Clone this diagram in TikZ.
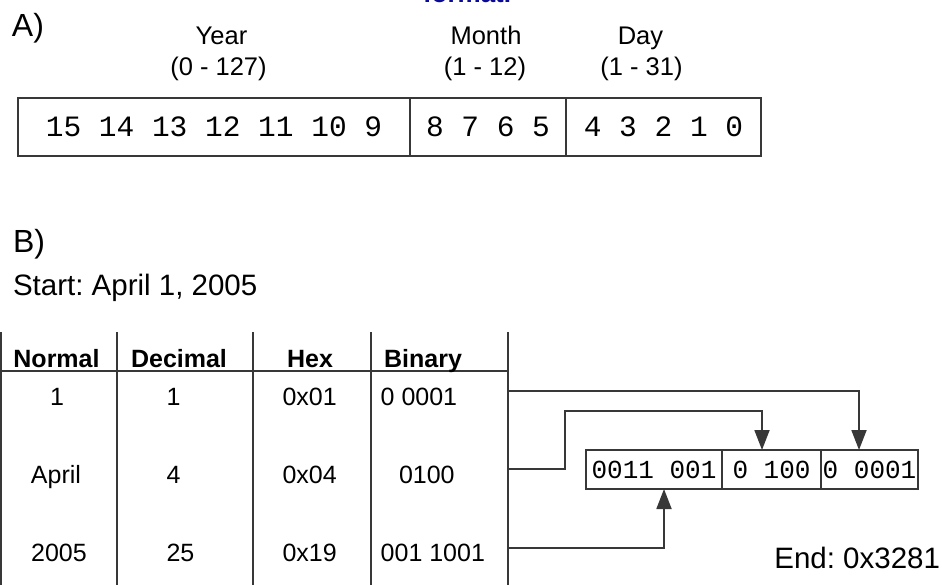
\documentclass[tikz,border=0pt]{standalone}
\usepackage{fontspec}
\setmainfont{Liberation Sans}
\setmonofont{Liberation Mono}
\usetikzlibrary{arrows.meta}
\definecolor{linegray}{gray}{0.22}
\definecolor{titleblue}{RGB}{10,10,150}
\frenchspacing
\begin{document}
\begin{tikzpicture}[x=1pt,y=-1pt,
  every node/.style={inner sep=0pt, outer sep=0pt},
  part/.style={font=\fontsize{32}{36}\selectfont, anchor=base west},
  lbl/.style={font=\fontsize{25.5}{30}\selectfont, anchor=base},
  note/.style={font=\fontsize{29.5}{34}\selectfont},
  head/.style={font=\bfseries\fontsize{25}{30}\selectfont, anchor=base},
  cellc/.style={font=\fontsize{25}{30}\selectfont, anchor=base},
  celll/.style={font=\fontsize{25}{30}\selectfont, anchor=base west},
  bitcell/.style={draw=linegray, line width=1.6pt, minimum height=58pt,
    font=\ttfamily\fontsize{29.5}{34}\selectfont},
  bincell/.style={draw=linegray, line width=1.6pt, minimum height=39pt,
    font=\ttfamily\fontsize{26}{30}\selectfont},
  tline/.style={draw=linegray, line width=1.8pt},
  arr/.style={draw=linegray, line width=1.8pt, -{Triangle[length=20pt,width=15pt]}}]
\useasboundingbox (0,0) rectangle (942,585);
\clip (0,0) rectangle (942,585);

% heading running off the top edge
\node[font=\bfseries\fontsize{26}{30}\selectfont, text=titleblue, anchor=base west]
  (fmt) at (423,2.7) {format.};

% ---- A) bit layout of the packed date ----
\node[part] (pa) at (12,37) {A)};
\node[lbl] (yl1) at (221.5,45) {Year};
\node[lbl] (yl2) at (218.5,76) {(0 - 127)};
\node[lbl] (ml1) at (486,45) {Month};
\node[lbl] (ml2) at (485,76) {(1 - 12)};
\node[lbl] (dl1) at (640.5,45) {Day};
\node[lbl] (dl2) at (641.5,76) {(1 - 31)};

\node[bitcell, minimum width=392pt] (yr) at (214,127) {15 14 13 12 11 10 9};
\node[bitcell, minimum width=156pt] (mo) at (488,127) {8 7 6 5};
\node[bitcell, minimum width=195pt] (dy) at (663.5,127) {4 3 2 1 0};

% ---- B) worked example ----
\node[part] (pb) at (13,253) {B)};
\node[note, anchor=base west] (start) at (13,295) {Start: April 1, 2005};

% table rules
\draw[tline] (1,332) -- (1,590);
\draw[tline] (117,332) -- (117,590);
\draw[tline] (253,332) -- (253,590);
\draw[tline] (371,332) -- (371,590);
\draw[tline] (508,332) -- (508,590);
\draw[tline] (0,371) -- (508,371);

% table header
\node[head] (hn) at (56.5,367) {Normal};
\node[head] (hd) at (179,367) {Decimal};
\node[head] (hh) at (310,367) {Hex};
\node[head] (hb) at (423,367) {Binary};

% day row
\node[cellc] (n1) at (57,405) {1};
\node[celll] (d1) at (166.5,405) {1};
\node[celll] (h1) at (282.5,405) {0x01};
\node[celll] (b1) at (380.7,405) {0 0001};
% month row
\node[cellc] (n2) at (56,483) {April};
\node[celll] (d2) at (166.5,483) {4};
\node[celll] (h2) at (282.5,483) {0x04};
\node[celll] (b2) at (399,483) {0100};
% year row
\node[cellc] (n3) at (59,561) {2005};
\node[celll] (d3) at (166.5,561) {25};
\node[celll] (h3) at (282.5,561) {0x19};
\node[celll] (b3) at (380.7,561) {001 1001};

% packed result
\node[bincell, minimum width=136pt] (byear) at (654,469.5) {0011 001};
\node[bincell, minimum width=99pt] (bmon) at (771.5,469.5) {0 100};
\node[bincell, minimum width=97pt] (bday) at (869.5,469.5) {0 0001};

\node[note, anchor=base east] (end) at (940,568) {End: 0x3281};

% row outlets on the table edge
\coordinate (r1) at (508,391);
\coordinate (r2) at (508,469);
\coordinate (r3) at (508,548);

\draw[arr] (r1) -| ([xshift=-10.5pt]bday.north);
\draw[arr] (r2) -| (565,411) -| ([xshift=-9.5pt]bmon.north);
\draw[arr] (r3) -| ([xshift=10pt]byear.south);
\end{tikzpicture}
\end{document}
